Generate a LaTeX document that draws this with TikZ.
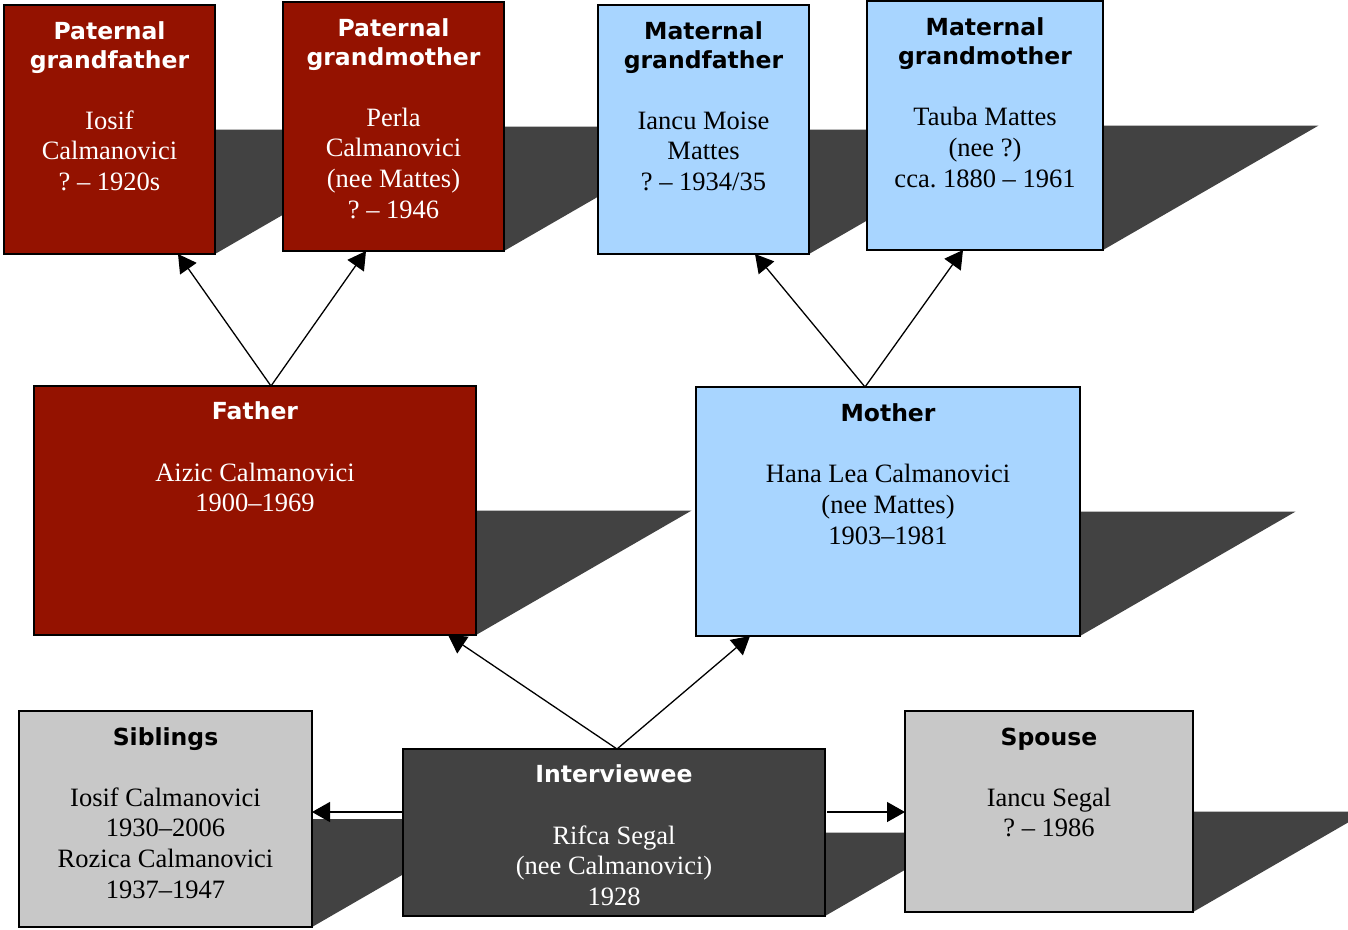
\documentclass[tikz,border=0pt]{standalone}
\usepackage{fontspec}
\setmainfont{Liberation Serif}
\newfontfamily\headfont{DejaVu Sans}
\usetikzlibrary{arrows.meta,calc}
\definecolor{pred}{RGB}{148,18,0}
\definecolor{mblue}{RGB}{168,213,255}
\definecolor{sgray}{RGB}{200,200,200}
\definecolor{dgray}{RGB}{66,66,66}
\pgfdeclarelayer{bg}
\pgfsetlayers{bg,main}
\frenchspacing
\tikzset{
  box/.style={draw=black, line width=1.4pt, anchor=north west, inner sep=0pt, outer sep=0pt},
  redbox/.style={box, fill=pred},
  bluebox/.style={box, fill=mblue},
  graybox/.style={box, fill=sgray},
  darkbox/.style={box, fill=dgray},
  head/.style={anchor=north, align=center, inner sep=0pt, font=\headfont\bfseries\fontsize{23.5}{29}\selectfont},
  body/.style={anchor=north, align=center, inner sep=0pt, font=\fontsize{26.5}{30.7}\selectfont},
  rel/.style={-{Triangle[length=18pt,width=20pt]}, line width=1.3pt},
  shadowfill/.style={fill=dgray}
}
\newcommand{\hs}{\rule{0pt}{18pt}}
\newcommand{\bs}{\rule{0pt}{20pt}}
\begin{document}
\begin{tikzpicture}[x=1pt,y=-1pt]
\useasboundingbox (0,0) rectangle (1348,929);
\clip (0,0) rectangle (1348,929);
% boxes
\node[redbox, minimum width=211pt, minimum height=249pt] (pgf) at (4,5) {};
\node[redbox, minimum width=221pt, minimum height=249pt] (pgm) at (283,2) {};
\node[bluebox, minimum width=211pt, minimum height=249pt] (mgf) at (598,5) {};
\node[bluebox, minimum width=236pt, minimum height=249pt] (mgm) at (867,1) {};
\node[redbox, minimum width=442pt, minimum height=249pt] (father) at (34,386) {};
\node[bluebox, minimum width=384pt, minimum height=249pt] (mother) at (696,387) {};
\node[graybox, minimum width=293pt, minimum height=216pt] (sib) at (19,711) {};
\node[darkbox, minimum width=422pt, minimum height=167pt] (ivw) at (403,749) {};
\node[graybox, minimum width=288pt, minimum height=201pt] (spouse) at (905,711) {};
% shadows
\begin{pgfonlayer}{bg}
\foreach \n/\h in {pgf/249,pgm/249,mgf/249,mgm/249,father/249,mother/249,sib/216,ivw/167,spouse/201}{
  \fill[shadowfill] (\n.east) -- ++(\h*0.866,0) -- (\n.south east) -- cycle;
}
\end{pgfonlayer}
% texts
\node[head, text=white] (pgfH) at ($(pgf.north)+(0,16)$) {\hs Paternal\\grandfather};
\node[body, text=white] (pgfB) at ($(pgf.north)+(0,103.8)$) {\bs Iosif\\Calmanovici\\? – 1920s};
\node[head, text=white] (pgmH) at ($(pgm.north)+(0,16)$) {\hs Paternal\\grandmother};
\node[body, text=white] (pgmB) at ($(pgm.north)+(0,103.8)$) {\bs Perla\\Calmanovici\\(nee Mattes)\\? – 1946};
\node[head] (mgfH) at ($(mgf.north)+(0,16)$) {\hs Maternal\\grandfather};
\node[body] (mgfB) at ($(mgf.north)+(0,103.8)$) {\bs Iancu Moise\\Mattes\\? – 1934/35};
\node[head] (mgmH) at ($(mgm.north)+(0,16)$) {\hs Maternal\\grandmother};
\node[body] (mgmB) at ($(mgm.north)+(0,104.5)$) {\bs Tauba Mattes\\(nee ?)\\cca. 1880 – 1961};
\node[head, text=white] (fatherH) at ($(father.north)+(0,15.5)$) {\hs Father};
\node[body, text=white] (fatherB) at ($(father.north)+(0,74.8)$) {\bs Aizic Calmanovici\\1900–1969};
\node[head] (motherH) at ($(mother.north)+(0,16)$) {\hs Mother};
\node[body] (motherB) at ($(mother.north)+(0,75.5)$) {\bs Hana Lea Calmanovici\\(nee Mattes)\\1903–1981};
\node[head] (sibH) at ($(sib.north)+(0,16)$) {\hs Siblings};
\node[body] (sibB) at ($(sib.north)+(0,74.8)$) {\bs Iosif Calmanovici\\1930–2006\\Rozica Calmanovici\\1937–1947};
\node[head, text=white] (ivwH) at ($(ivw.north)+(0,15.5)$) {\hs Interviewee};
\node[body, text=white] (ivwB) at ($(ivw.north)+(0,74.8)$) {\bs Rifca Segal\\(nee Calmanovici)\\1928};
\node[head] (spouseH) at ($(spouse.north)+(0,16)$) {\hs Spouse};
\node[body] (spouseB) at ($(spouse.north)+(0,74.8)$) {\bs Iancu Segal\\? – 1986};
% connector ends
\coordinate (fTop) at ($(father.north west)+(237,0)$);
\coordinate (pgfEnd) at ($(pgf.south west)+(174,0)$);
\coordinate (pgmEnd) at ($(pgm.south west)+(83,0)$);
\coordinate (mTop) at ($(mother.north west)+(169,0)$);
\coordinate (mgfEnd) at ($(mgf.south west)+(157,0)$);
\coordinate (mgmEnd) at ($(mgm.south west)+(96,0)$);
\coordinate (iTop) at ($(ivw.north west)+(214,0)$);
\coordinate (fatherEnd) at ($(father.south west)+(414,0)$);
\coordinate (motherEnd) at ($(mother.south west)+(54,0)$);
\coordinate (iLeft) at ($(ivw.north west)+(0,63)$);
\coordinate (sibEnd) at ($(sib.north east)+(0,101)$);
\coordinate (iRight) at ($(ivw.north east)+(2,63)$);
\coordinate (spouseEnd) at ($(spouse.north west)+(0,101)$);
% connectors
\draw[rel] (fTop) -- (pgfEnd);
\draw[rel] (fTop) -- (pgmEnd);
\draw[rel] (mTop) -- (mgfEnd);
\draw[rel] (mTop) -- (mgmEnd);
\draw[rel] (iTop) -- (fatherEnd);
\draw[rel] (iTop) -- (motherEnd);
\draw[rel] (iLeft) -- (sibEnd);
\draw[rel] (iRight) -- (spouseEnd);
\end{tikzpicture}
\end{document}
